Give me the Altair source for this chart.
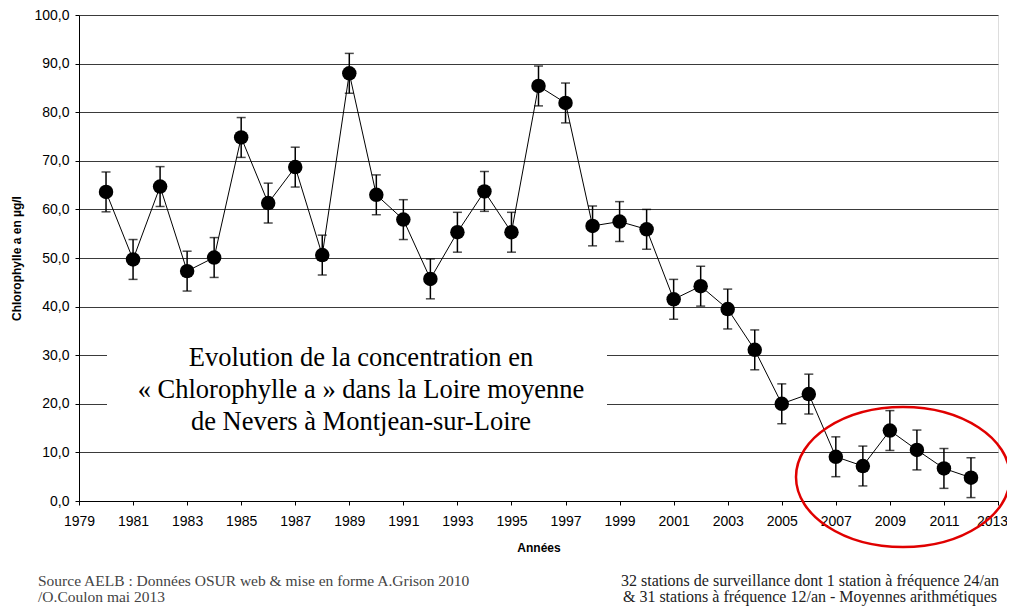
import altair as alt
import pandas as pd

years = list(range(1980, 2013))
chl = [63.6, 49.7, 64.7, 47.3, 50.1, 74.8, 61.3, 68.7, 50.6, 88.0,
       63.0, 57.9, 45.7, 55.3, 63.7, 55.3, 85.4, 81.9, 56.6, 57.5,
       55.9, 41.5, 44.2, 39.5, 31.1, 20.0, 22.0, 9.1, 7.2, 14.5,
       10.5, 6.7, 4.8]
err = [4.1, 4.1, 4.1, 4.1, 4.1, 4.1, 4.1, 4.1, 4.1, 4.1,
       4.1, 4.1, 4.1, 4.1, 4.1, 4.1, 4.1, 4.1, 4.1, 4.1,
       4.1, 4.1, 4.1, 4.1, 4.1, 4.1, 4.1, 4.1, 4.1, 4.1,
       4.1, 4.1, 4.1]
x_ticks = list(range(1979, 2014, 2))
y_ticks = [0, 10, 20, 30, 40, 50, 60, 70, 80, 90, 100]

title_lines = ["Evolution de la concentration en",
               "« Chlorophylle a » dans la Loire moyenne",
               "de Nevers à Montjean-sur-Loire"]
source_lines = ["Source AELB : Données OSUR web & mise en forme A.Grison 2010",
                "/O.Coulon mai 2013"]
note_lines = ["32 stations de surveillance dont 1 station à fréquence 24/an",
              "& 31 stations à fréquence 12/an - Moyennes arithmétiques"]

df = pd.DataFrame({"year": years, "chl": chl, "err": err})
df["lo"] = df["chl"] - df["err"]
df["hi"] = df["chl"] + df["err"]

W, H = 919, 486
YT = "Chlorophylle a en µg/l"

xscale = alt.Scale(domain=[1979, 2013], nice=False, zero=False)
yscale = alt.Scale(domain=[0, 100], nice=False)

xaxis = alt.Axis(values=x_ticks, format="d", title="Années",
                 grid=False, tickSize=4, labelPadding=9, labelFlush=False,
                 labelOverlap=False,
                 labelOffset={"expr": "datum.value == 2013 ? -6 : 0"},
                 titlePadding=14, labelFontSize=14,
                 titleFontSize=12, titleFontWeight="bold",
                 domainColor="black", tickColor="black",
                 labelColor="black", titleColor="black",
                 labelFont="Liberation Sans", titleFont="Liberation Sans")
yaxis = alt.Axis(values=y_ticks, title=YT,
                 labelExpr="replace(format(datum.value, '.1f'), '.', ',')",
                 grid=True, gridColor="#3a3a3a", gridWidth=1,
                 tickSize=4, labelPadding=6, titlePadding=10,
                 labelFlush=False, labelOverlap=False,
                 labelFontSize=14, titleFontSize=12,
                 titleFontWeight="bold", domainColor="black",
                 tickColor="black", labelColor="black",
                 titleColor="black",
                 labelFont="Liberation Sans", titleFont="Liberation Sans")


def X(f):
    return alt.X(f, scale=xscale, axis=xaxis, title="Années")


def Y(f):
    return alt.Y(f, scale=yscale, axis=yaxis, title=YT)


base = alt.Chart(df)

line = base.mark_line(color="black", strokeWidth=1).encode(x=X("year:Q"), y=Y("chl:Q"))
rules = base.mark_rule(color="black", strokeWidth=1.5).encode(
    x=X("year:Q"), y=Y("lo:Q"), y2="hi:Q")
cap_hi = base.mark_tick(orient="horizontal", size=9, thickness=1.5,
                        color="black").encode(x=X("year:Q"), y=Y("hi:Q"))
cap_lo = base.mark_tick(orient="horizontal", size=9, thickness=1.5,
                        color="black").encode(x=X("year:Q"), y=Y("lo:Q"))
points = base.mark_circle(size=210, color="black", opacity=1).encode(
    x=X("year:Q"), y=Y("chl:Q"))

one = pd.DataFrame({"k": [0]})
box = alt.Chart(one).mark_rect(color="white").encode(
    x=alt.value(28), x2=alt.value(528), y=alt.value(325), y2=alt.value(417))


def txt(s, x, y, size, color, align, font="Liberation Serif"):
    return alt.Chart(pd.DataFrame({"t": [s]})).mark_text(
        font=font, fontSize=size, color=color, align=align,
        baseline="middle").encode(text="t:N", x=alt.value(x), y=alt.value(y))


texts = []
for s, yy in zip(title_lines, [343, 375, 407]):
    texts.append(txt(s, 282, yy, 26.5, "black", "center"))
for s, yy in zip(source_lines, [566, 582]):
    texts.append(txt(s, -41, yy, 15.5, "#444444", "left"))
for s, yy in zip(note_lines, [566, 582]):
    texts.append(txt(s, 731, yy, 16, "#222222", "center"))

ellipse = alt.Chart(one).mark_point(
    shape="M-1,0A1,0.654,0,1,1,1,0A1,0.654,0,1,1,-1,0Z",
    filled=False, color="#e00000", strokeWidth=2.5, size=45796, opacity=1).encode(
    x=alt.value(824), y=alt.value(462))

chart = alt.layer(box, rules, cap_hi, cap_lo, line, points, *texts, ellipse).properties(
    width=W, height=H,
    padding={"left": 71, "top": 7, "right": 9, "bottom": 105},
    autosize="none",
).configure_view(stroke="#808080", strokeWidth=1).configure(background="white")

chart.save("out.html", embed_options={"renderer": "svg", "actions": False})
